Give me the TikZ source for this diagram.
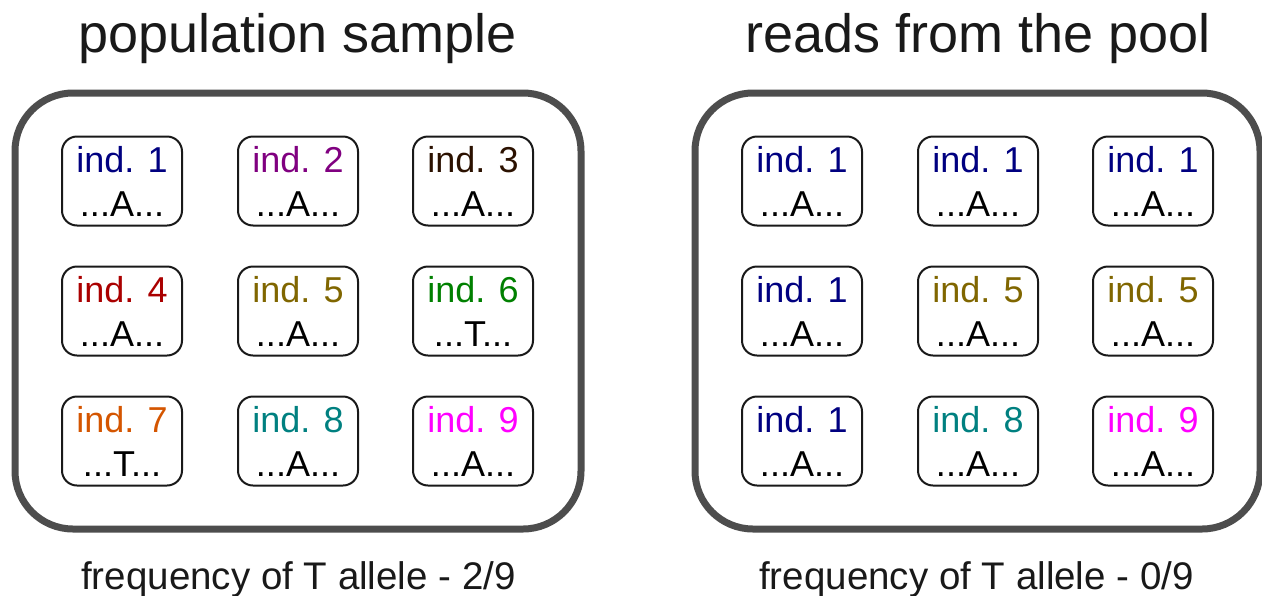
\documentclass[tikz,border=0pt]{standalone}
\usepackage{fontspec}
\setmainfont{Liberation Sans}
\definecolor{indnavy}{HTML}{000080}
\definecolor{indpurple}{HTML}{800080}
\definecolor{indbrown}{HTML}{2B1100}
\definecolor{indred}{HTML}{AA0000}
\definecolor{indolive}{HTML}{806600}
\definecolor{indgreen}{HTML}{008000}
\definecolor{indorange}{HTML}{D45500}
\definecolor{indteal}{HTML}{008080}
\definecolor{indmagenta}{HTML}{FF00FF}
\definecolor{poolgray}{HTML}{4D4D4D}
\tikzset{
  indbox/.style={draw=black!90, line width=2pt, rounded corners=15pt,
    minimum width=120pt, minimum height=89pt, inner sep=0pt, align=center,
    font=\fontsize{36}{44}\selectfont},
  pool/.style={draw=poolgray, line width=7pt, rounded corners=58pt},
  heading/.style={anchor=base, font=\fontsize{54}{60}\selectfont, text=black!90},
  freq/.style={anchor=base, font=\fontsize{38.5}{44}\selectfont, text=black!90}
}
\begin{document}
\begin{tikzpicture}[x=1pt,y=-1pt]
\useasboundingbox (0,0) rectangle (1262,595);
\node[heading] (titleL) at (298,52) {population sample};
\node[heading] (titleR) at (978,52) {reads from the pool};
\draw[pool] (15,93) rectangle (581,529);
\draw[pool] (695,93) rectangle (1260,529);

% individuals in the sample
\node[indbox] (pop1) at (122,181) {\textcolor{indnavy}{ind. 1}\\...A...};
\node[indbox] (pop2) at (298,181) {\textcolor{indpurple}{ind. 2}\\...A...};
\node[indbox] (pop3) at (473,181) {\textcolor{indbrown}{ind. 3}\\...A...};
\node[indbox] (pop4) at (122,311) {\textcolor{indred}{ind. 4}\\...A...};
\node[indbox] (pop5) at (298,311) {\textcolor{indolive}{ind. 5}\\...A...};
\node[indbox] (pop6) at (473,311) {\textcolor{indgreen}{ind. 6}\\...T...};
\node[indbox] (pop7) at (122,441) {\textcolor{indorange}{ind. 7}\\...T...};
\node[indbox] (pop8) at (298,441) {\textcolor{indteal}{ind. 8}\\...A...};
\node[indbox] (pop9) at (473,441) {\textcolor{indmagenta}{ind. 9}\\...A...};

% reads drawn from the pool
\node[indbox] (read1) at (802,181) {\textcolor{indnavy}{ind. 1}\\...A...};
\node[indbox] (read2) at (978,181) {\textcolor{indnavy}{ind. 1}\\...A...};
\node[indbox] (read3) at (1153,181) {\textcolor{indnavy}{ind. 1}\\...A...};
\node[indbox] (read4) at (802,311) {\textcolor{indnavy}{ind. 1}\\...A...};
\node[indbox] (read5) at (978,311) {\textcolor{indolive}{ind. 5}\\...A...};
\node[indbox] (read6) at (1153,311) {\textcolor{indolive}{ind. 5}\\...A...};
\node[indbox] (read7) at (802,441) {\textcolor{indnavy}{ind. 1}\\...A...};
\node[indbox] (read8) at (978,441) {\textcolor{indteal}{ind. 8}\\...A...};
\node[indbox] (read9) at (1153,441) {\textcolor{indmagenta}{ind. 9}\\...A...};

\node[freq] (freqL) at (298.5,589) {frequency of T allele - 2/9};
\node[freq] (freqR) at (976.5,589) {frequency of T allele - 0/9};
\end{tikzpicture}
\end{document}
